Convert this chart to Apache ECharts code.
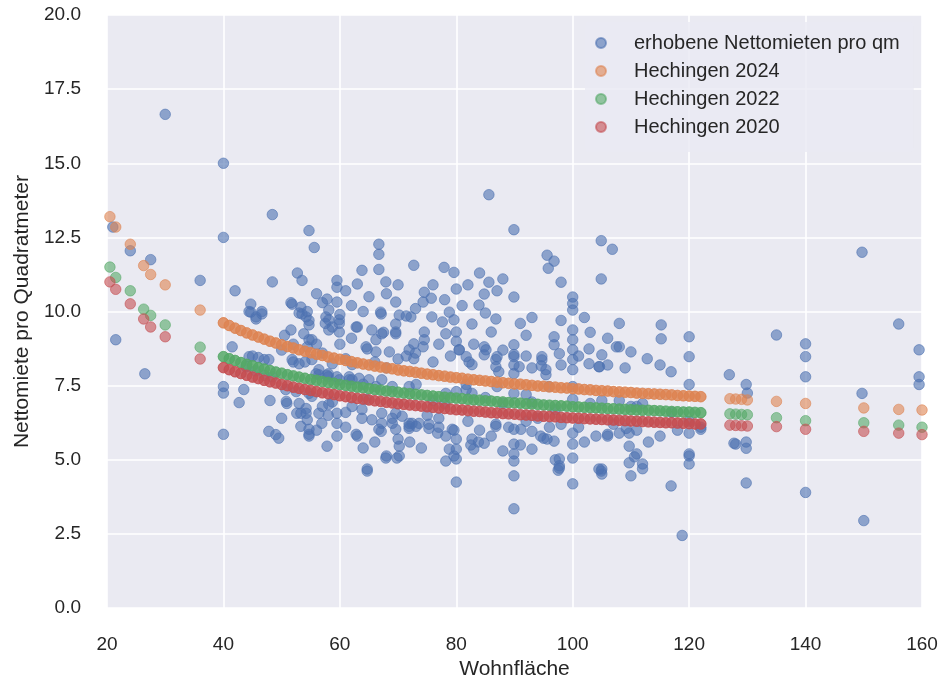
<!DOCTYPE html>
<html>
<head>
<meta charset="utf-8">
<script src="https://cdn.jsdelivr.net/npm/echarts@6/dist/echarts.min.js"></script>
<style>
html,body{margin:0;padding:0;background:#fff;}
#chart{width:942px;height:685px;}
</style>
</head>
<body>
<div id="chart"></div>
<script>
// Survey points: [Wohnfläche, Nettomiete pro qm]
const survey = [
[21,12.85],[21.5,9.05],[24,12.05],[26.5,7.9],[27.5,11.75],[30,16.65],[36,11.05],
[40,15.0],[40,12.5],[40,7.47],[40,7.25],[40,5.86],
[41.5,8.81],[42.7,6.93],[43.5,7.37],[42,10.7],
[44.7,10.25],[45.6,9.82],[46.6,10.0],[44.4,10.0],[45.6,9.75],[44.7,9.98],[46.6,9.92],
[48.4,13.27],[48.4,11.0],
[47.8,5.96],[49,5.85],[49.5,5.73],
[50.9,6.9],[52.6,6.57],[50.8,6.97],[54.2,6.73],
[51.8,10.25],[53,9.95],[54.2,9.82],[53.5,9.92],[54.7,9.7],
[54.7,12.73],[55.6,12.16],[52.7,11.3],[53.5,11.05],[51.6,10.3],[53.3,10.15],[54.4,10.0],[54.7,9.55],
[54.7,6.03],[54.7,5.8],
[51.6,9.38],[54.7,9.05],[50.5,9.2],
[57.8,5.46],[59.5,6.57],[59.5,5.8],[62.8,5.86],[64.7,4.62],[67.1,5.96],[68,5.13],[69.8,5.06],[69.6,6.03],[71.9,6.06],
[58.1,10.05],[59.9,9.72],[58.1,9.38],[59.9,9.6],[57.6,9.82],[58.7,9.48],
[62.8,9.48],[65.5,9.38],[67.5,9.3],[69.6,9.25],
[67.1,9.92],[70.2,9.88],[72.2,9.82],[69.6,10.32],
[64.5,8.81],[66.2,9.05],[68.5,8.64],[71.9,8.71],
[44.4,8.48],[46,8.45],[47.8,8.38],
[43.9,8.14],[45.5,8.0],[47,7.85],[48.4,7.8],
[51.8,8.38],[53,8.24],
[55.2,9.05],[57,8.6],[58.7,8.24],
[61,8.41],[62.1,8.21],
[61.6,7.7],[64,7.55],[66.2,7.47],
[55.9,7.9],[58,7.8],[59.9,7.7],
[50.7,7.37],[52.5,7.3],[54.7,7.24],
[55.2,7.14],[57,6.8],[58.7,6.95],[58.1,6.87],
[53,6.9],[54.2,6.57],
[62.1,6.8],[64.5,7.04],[63.8,6.7],
[67.2,6.57],[69,6.4],[70.7,6.47],[72.4,6.23],[69,6.23],
[85.6,13.94],[89.9,12.76],[104.9,12.39],[106.8,12.1],[104.9,11.1],
[66.7,12.27],[66.7,11.93],[66.7,11.42],[67.9,11.0],
[63.8,11.39],[63,10.93],[72.7,11.56],[77.9,11.49],[79.6,11.32],[80,10.76],
[85.6,10.99],[84.8,10.59],[89.9,10.49],
[95.6,11.9],[96.8,11.7],[95.8,11.46],[98,10.99],
[100,10.49],[100,10.27],[100,10.05],
[59.5,11.05],[59.5,10.82],[57.8,10.42],[59.5,10.32],
[74.5,10.65],[75.7,10.45],[74.3,10.32],
[67,9.98],[71.4,9.85],[75.8,9.82],
[78.8,9.98],[79.6,9.72],[82.7,9.58],
[83.9,10.22],[85,9.95],[86.8,9.75],[86,9.31],
[89.9,8.88],[89.9,8.55],[89.9,8.2],[89.9,7.91],
[84.8,8.81],[84.8,8.54],[87,8.48],[87.3,7.97],
[80,9.31],[80,9.0],[80.5,8.71],[81.7,8.48],[82.7,8.21],
[77.6,9.65],[78.2,9.25],
[74.5,9.31],[74.5,9.05],[74.3,8.81],
[72.7,8.91],[71.4,8.5],[72.7,8.41],
[69.6,9.58],[69.6,9.31],
[67.2,9.25],
[64.7,8.74],[66.2,8.64],
[63,9.48],[58.1,9.72],[59.9,9.31],[57.5,9.6],
[53.8,9.25],[54.4,8.81],
[94.7,8.48],[94.6,8.17],[95.4,7.87],
[96.8,9.15],[96.8,8.88],
[100,9.38],[100,9.05],[100,8.71],[100,8.38],[100,8.04],
[102.8,8.74],[102.8,8.24],[104.6,8.14],[105,8.54],
[107.5,8.81],
[86.8,8.38],
[81.7,7.54],[82.7,7.24],[87,7.47],[89.9,7.24],[95.9,7.47],[100,7.47],[100,7.04],
[55.2,8.38],[54,8.3],
[56.4,7.87],[57.8,7.85],[59.5,7.8],
[61.6,7.8],[63.3,7.75],[65,7.7],
[67.2,7.7],[69,7.47],[71.9,7.47],[73.1,7.54],
[78.2,7.24],[80,7.3],[81.7,7.37],
[53.3,6.57],[54.4,6.35],[53.3,6.13],
[56.4,6.57],[56.9,6.23],[59.5,6.23],
[54.7,5.86],[63,5.8],
[63.8,6.4],[65.5,6.35],[67.2,6.23],[66.7,6.03],
[69.6,6.57],[70,5.7],[70.2,5.46],[70.2,5.13],
[67.9,5.06],[64.7,4.69],
[71.9,6.23],[73.6,6.23],[71.9,6.13],[73.1,6.13],
[75.3,6.06],[76.8,5.9],[78.2,5.8],[79.6,6.0],[80,5.7],
[78.2,4.96],[79.6,5.13],[78.8,5.36],[80,5.36],[80,5.03],[80,4.25],
[82.7,5.7],[83.8,5.6],[82.5,5.5],[84.8,5.56],[83,5.36],
[86.8,6.13],[89.9,6.03],[91.1,6.03],[89.9,5.53],[89.9,5.2],[89.9,4.96],[89.9,4.46],[89.9,3.35],
[93,5.36],[94.5,5.8],[95.6,5.7],[96.8,5.63],[95,5.73],[97,5.0],[97.7,4.8],[97.5,4.65],
[100,5.9],[100,5.53],[100,5.06],[100,4.19],
[97.7,5.03],[97.7,4.72],
[104.9,4.62],[105,4.69],[105,4.52],[106,5.8],[106,5.86],
[109.7,5.46],[110.6,5.1],[109.7,4.9],[112,4.86],[110,4.46],
[109.2,6.06],[109.7,5.9],[108,5.9],[111,5.2],[112,4.7],
[116.9,4.12],[118.8,2.45],
[120,5.13],[120,4.86],[120,5.9],[122,6.03],[120,5.2],
[128,5.53],[129.8,5.39],[129.8,5.6],[129.8,4.22],[127.7,5.56],[140,3.9],[150,2.95],
[115.2,9.55],[115.2,9.08],[120,9.15],[120,8.48],
[108,8.81],[110,8.64],
[112.8,8.41],[115,8.2],[116.9,7.97],
[104.5,8.14],
[120,7.54],
[126.9,7.87],[129.8,7.54],
[135,9.21],
[140,8.91],[140,8.48],[140,7.8],
[149.7,12.0],[149.7,7.24],
[156,9.58],
[159.5,8.71],[159.5,7.8],[159.5,7.54],
[110,6.8],[111,6.8],
[104.5,4.69],
[80.5,8.71],[85.1,8.71],[89.9,8.48],[90.8,8.14],[94.7,8.37],[95.4,8.04],[97.7,8.58],[82.2,8.3],[86.8,8.14],
[75.3,6.2],[77,6.1],[79.3,6.03],[86.8,6.2],[89,6.1],[93,5.96],
[45,8.5],[47,8.38],[52,8.3],[56.4,8.04],[58,7.9],[62.1,7.7],
[76,7.0],[78,6.9],[85,7.1],[88,6.9],[92,7.2],[93,6.95],[97,6.7],[103,6.9],[105,7.0],[108,7.0],[112,6.9],[117,6.6],[120,6.3],[122,6.1],[130,7.25],
[56,10.6],[57,10.3],[61,10.7],[62,10.2],[60,9.9],[64,10.0],[65,10.5],[68,10.6],[70,10.9],[73,10.1],
[76,10.9],[78,10.4],[81,10.2],[82,10.9],[84,11.3],[87,10.7],[88,11.1],[91,9.6],[92,9.2],[93,9.8],
[98,9.7],[102,9.8],[103,9.3],[106,9.1],[108,9.6],
[50,8.7],[52,8.9],[56,8.9],[60,8.9],[62,9.1],[66,8.3],[68,8.1],[70,8.4],[73,8.6],[76,8.3],
[77,8.9],[79,8.5],[83,8.9],[88,8.7],[92,8.5],[93,8.1],[98,8.2],[101,8.5],[106,8.2],[109,8.1],
[48,7.0],[50,6.4],[56,6.0],[58,6.5],[61,6.1],[61,6.6],[64,5.4],[66,5.6],[72,5.6],[74,5.4],
[75,6.5],[77,6.4],[82,6.3],[84,6.0],[86,5.8],[88,5.3],[91,5.5],[92,6.3],[94,6.4],[96,6.1],
[98,6.2],[101,6.1],[102,5.6],[104,5.8],[107,6.2],[111,6.0],[113,5.6],[115,5.8],[118,6.0]
];

// Wohnfläche positions of the fitted values
const fitX = [20.5,21.5,24,26.3,27.5,30,36,
40,41,42,43,44,45,46,47,48,49,50,51,52,53,54,55,56,57,58,59,
60,61,62,63,64,65,66,67,68,69,70,71,72,73,74,75,76,77,78,79,
80,81,82,83,84,85,86,87,88,89,90,91,92,93,94,95,96,97,98,99,
100,101,102,103,104,105,106,107,108,109,110,111,112,113,114,115,116,117,118,119,
120,121,122,127,128,129,130,135,140,150,156,160];

const fit2024 = [13.2,12.85,12.27,11.55,11.25,10.9,10.05,
9.62,9.53,9.44,9.36,9.28,9.21,9.14,9.07,9.00,8.94,8.88,8.82,8.77,8.71,8.66,8.61,8.56,8.52,8.47,8.43,
8.39,8.35,8.31,8.27,8.23,8.20,8.16,8.13,8.10,8.07,8.03,8.00,7.98,7.95,7.92,7.89,7.87,7.84,7.82,7.79,
7.77,7.75,7.72,7.70,7.68,7.66,7.64,7.62,7.60,7.58,7.56,7.55,7.53,7.51,7.49,7.48,7.46,7.45,7.43,7.42,
7.40,7.39,7.37,7.36,7.34,7.33,7.32,7.30,7.29,7.28,7.27,7.25,7.24,7.23,7.22,7.21,7.20,7.19,7.17,7.16,
7.15,7.14,7.13,7.06,7.05,7.04,7.02,6.97,6.90,6.75,6.70,6.68];

const fit2022 = [11.5,11.15,10.7,10.08,9.87,9.55,8.8,
8.48,8.41,8.35,8.28,8.22,8.17,8.11,8.06,8.01,7.96,7.92,7.87,7.83,7.79,7.75,7.71,7.68,7.64,7.61,7.58,
7.54,7.51,7.48,7.45,7.43,7.40,7.37,7.35,7.32,7.30,7.28,7.25,7.23,7.21,7.19,7.17,7.15,7.13,7.11,7.09,
7.08,7.06,7.04,7.02,7.01,6.99,6.98,6.96,6.95,6.93,6.92,6.91,6.89,6.88,6.87,6.85,6.84,6.83,6.82,6.81,
6.79,6.78,6.77,6.76,6.75,6.74,6.73,6.72,6.71,6.70,6.69,6.68,6.67,6.67,6.66,6.65,6.64,6.63,6.62,6.61,
6.61,6.60,6.59,6.55,6.54,6.53,6.52,6.42,6.32,6.25,6.17,6.10];

const fit2020 = [11.0,10.75,10.26,9.75,9.48,9.15,8.4,
8.11,8.04,7.97,7.91,7.85,7.79,7.74,7.68,7.63,7.59,7.54,7.50,7.45,7.41,7.37,7.34,7.30,7.26,7.23,7.20,
7.16,7.13,7.10,7.07,7.05,7.02,6.99,6.97,6.94,6.92,6.89,6.87,6.85,6.83,6.81,6.79,6.77,6.75,6.73,6.71,
6.69,6.68,6.66,6.64,6.63,6.61,6.59,6.58,6.56,6.55,6.54,6.52,6.51,6.50,6.48,6.47,6.46,6.45,6.43,6.42,
6.41,6.40,6.39,6.38,6.37,6.36,6.35,6.34,6.33,6.32,6.31,6.30,6.29,6.28,6.27,6.26,6.25,6.25,6.24,6.23,
6.22,6.21,6.21,6.17,6.16,6.15,6.14,6.12,6.03,5.96,5.90,5.85];

// index range of the densely observed Wohnfläche band (40–122 m²), where many flats share a size
const denseFrom = 7, denseTo = 90;

const seriesNames = ['erhobene Nettomieten pro qm','Hechingen 2024','Hechingen 2022','Hechingen 2020'];
const seriesColors = ['#4c72b0','#dd8452','#55a868','#c44e52'];
const xTicks = {min:20, max:160, interval:20};
const yTicks = {min:0, max:20, interval:2.5};

const FONT = '"Liberation Sans", Arial, Helvetica, sans-serif';
const TXT = '#262626';

function pairs(xs, ys){ return xs.map((x,i)=>[x, ys[i]]); }

const fits = [fit2024, fit2022, fit2020];
const series = [];
const baseStyle = (c)=>({color:c, opacity:0.6, borderColor:c, borderWidth:1});
series.push({name:seriesNames[0], type:'scatter', data:survey, symbol:'circle', symbolSize:10.5,
  silent:true, itemStyle:baseStyle(seriesColors[0]), emphasis:{disabled:true}});
fits.forEach((f,i)=>{
  const all = pairs(fitX, f);
  series.push({name:seriesNames[i+1], type:'scatter', data:all, symbol:'circle', symbolSize:10.5,
    silent:true, itemStyle:baseStyle(seriesColors[i+1]), emphasis:{disabled:true}});
  // repeated predictions at shared sizes in the dense range
  series.push({name:seriesNames[i+1], type:'scatter', data:all.slice(denseFrom, denseTo), symbol:'circle', symbolSize:10.5,
    silent:true, itemStyle:baseStyle(seriesColors[i+1]), emphasis:{disabled:true}});
});

const chart = echarts.init(document.getElementById('chart'), null, {renderer:'canvas'});
chart.setOption({
  animation:false,
  backgroundColor:'#ffffff',
  textStyle:{fontFamily:FONT, color:TXT},
  grid:{left:107, right:20, top:15, bottom:72, containLabel:false, show:true, backgroundColor:'#eaeaf2', borderWidth:0},
  legend:{
    orient:'vertical', left:585, top:22,
    padding:[10,14,14,10],
    backgroundColor:'rgba(234,234,242,0.8)', borderRadius:4,
    itemWidth:10, itemHeight:10, itemGap:6,
    icon:'circle',
    textStyle:{fontFamily:FONT, fontSize:20, color:TXT, lineHeight:22, padding:[0,0,0,23]},
    itemStyle:{opacity:0.6},
    data:seriesNames
  },
  xAxis:{
    type:'value', min:xTicks.min, max:xTicks.max, interval:xTicks.interval,
    name:'Wohnfläche', nameLocation:'middle', nameGap:50,
    nameTextStyle:{fontFamily:FONT, fontSize:21, color:TXT},
    axisLine:{show:false}, axisTick:{show:false},
    axisLabel:{fontFamily:FONT, fontSize:19, color:TXT, margin:27},
    splitLine:{show:true, lineStyle:{color:'#ffffff', width:1.6}}
  },
  yAxis:{
    type:'value', min:yTicks.min, max:yTicks.max, interval:yTicks.interval,
    name:'Nettomiete pro Quadratmeter', nameLocation:'middle', nameGap:68,
    nameTextStyle:{fontFamily:FONT, fontSize:21, color:TXT},
    axisLine:{show:false}, axisTick:{show:false},
    axisLabel:{fontFamily:FONT, fontSize:19, color:TXT, margin:26, formatter:v=>v.toFixed(1)},
    splitLine:{show:true, lineStyle:{color:'#ffffff', width:1.6}}
  },
  series: series
});
</script>
</body>
</html>
